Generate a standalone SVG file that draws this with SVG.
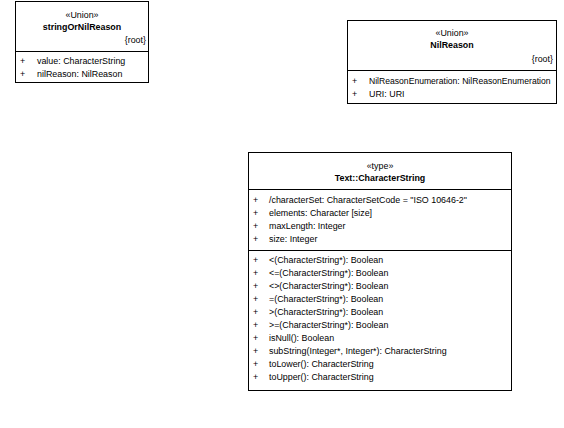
<svg xmlns="http://www.w3.org/2000/svg" width="564" height="428" viewBox="0 0 564 428">
<style>
rect.box{fill:#fff;stroke:#000;stroke-width:1}
line.div{stroke:#000;stroke-width:1}
text{font-family:"Liberation Sans",Arial,sans-serif;font-size:8.9px;fill:#000}
.c{text-anchor:middle}
.b{font-weight:bold}
.r{text-anchor:end}
.s{font-size:8.6px}
</style>
<rect width="564" height="428" fill="#fff"/>
<g id="stringOrNilReason">
<rect class="box" x="15.5" y="1.5" width="133" height="81"/>
<line class="div" x1="15.5" y1="51.5" x2="148.5" y2="51.5"/>
<text class="c" x="82" y="18">«Union»</text>
<text class="c b" x="82" y="30">stringOrNilReason</text>
<text class="r" x="146" y="43">{root}</text>
<text x="20" y="64">+</text><text x="37" y="64">value: CharacterString</text>
<text x="20" y="77">+</text><text x="37" y="77">nilReason: NilReason</text>
</g>
<g id="NilReason">
<rect class="box" x="347.5" y="20.5" width="209" height="83"/>
<line class="div" x1="347.5" y1="70.5" x2="556.5" y2="70.5"/>
<text class="c" x="452" y="36">«Union»</text>
<text class="c b" x="452" y="48">NilReason</text>
<text class="r" x="553" y="62">{root}</text>
<text x="352" y="84">+</text><text class="s" x="369" y="84">NilReasonEnumeration: NilReasonEnumeration</text>
<text x="352" y="97">+</text><text x="369" y="97">URI: URI</text>
</g>
<g id="CharacterString">
<rect class="box" x="248.5" y="152.5" width="263" height="238"/>
<line class="div" x1="248.5" y1="189.5" x2="511.5" y2="189.5"/>
<line class="div" x1="248.5" y1="250.5" x2="511.5" y2="250.5"/>
<text class="c" x="380" y="169">«type»</text>
<text class="c b" x="380" y="181">Text::CharacterString</text>
<text x="253" y="203">+</text><text x="269" y="203">/characterSet: CharacterSetCode = "ISO 10646-2"</text>
<text x="253" y="216">+</text><text x="269" y="216">elements: Character [size]</text>
<text x="253" y="229">+</text><text x="269" y="229">maxLength: Integer</text>
<text x="253" y="242">+</text><text x="269" y="242">size: Integer</text>
<text x="253" y="263">+</text><text x="269" y="263">&lt;(CharacterString*): Boolean</text>
<text x="253" y="276">+</text><text x="269" y="276">&lt;=(CharacterString*): Boolean</text>
<text x="253" y="289">+</text><text x="269" y="289">&lt;&gt;(CharacterString*): Boolean</text>
<text x="253" y="302">+</text><text x="269" y="302">=(CharacterString*): Boolean</text>
<text x="253" y="315">+</text><text x="269" y="315">&gt;(CharacterString*): Boolean</text>
<text x="253" y="328">+</text><text x="269" y="328">&gt;=(CharacterString*): Boolean</text>
<text x="253" y="341">+</text><text x="269" y="341">isNull(): Boolean</text>
<text x="253" y="354">+</text><text x="269" y="354">subString(Integer*, Integer*): CharacterString</text>
<text x="253" y="367">+</text><text x="269" y="367">toLower(): CharacterString</text>
<text x="253" y="380">+</text><text x="269" y="380">toUpper(): CharacterString</text>
</g>
<g id="connectors"></g>
</svg>
